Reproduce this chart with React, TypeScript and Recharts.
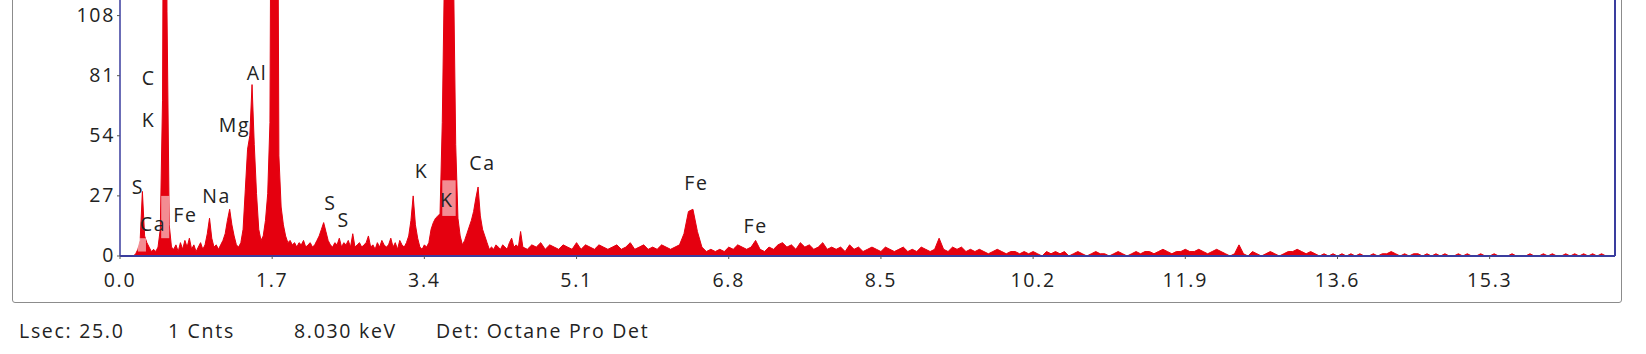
import React from 'react';
import { AreaChart, Area, XAxis, YAxis, ReferenceArea, ReferenceDot } from 'recharts';

const FONT = '"Open Sans", "Noto Sans", sans-serif';
const FS = 19.5;
const LS = 1.7;
const RED = '#e5000f';
const BLUE = '#3a3d9e';
const TEXT = '#222';

// energy axis (keV) and counts axis
const xTicks = [0, 1.7, 3.4, 5.1, 6.8, 8.5, 10.2, 11.9, 13.6, 15.3];
const yTicks = [0, 27, 54, 81, 108];
const X_MAX = 16.7;
const Y_MAX = 115;

// channels 0.000 .. 4.475 keV, 0.025 keV wide
const LOW_START = 0;
const LOW_STEP = 0.025;
const countsLow = [
  0, 0, 0, 0, 0, 0, 0, 1, 3, 7,
  29, 9, 6, 4, 2, 3, 2, 4, 12, 70,
  320, 110, 14, 4, 3, 5, 2, 6, 3, 7,
  4, 8, 3, 5, 2, 4, 6, 3, 5, 10,
  17, 8, 4, 5, 3, 5, 7, 10, 16, 21,
  14, 9, 5, 4, 6, 12, 30, 48, 54, 77,
  50, 28, 12, 7, 9, 16, 28, 60, 300, 420,
  300, 45, 22, 14, 9, 6, 7, 5, 6, 4,
  6, 5, 7, 4, 5, 6, 4, 5, 7, 9,
  12, 15, 11, 7, 5, 4, 6, 5, 8, 4,
  6, 5, 7, 4, 10, 4, 5, 6, 4, 5,
  6, 9, 4, 5, 3, 6, 4, 7, 5, 4,
  5, 8, 4, 6, 3, 7, 5, 4, 6, 9,
  16, 27, 14, 8, 4, 3, 5, 4, 6, 12,
  15, 17, 18, 19, 60, 130, 220, 400, 220, 130,
  50, 17, 9, 5, 7, 10, 13, 16, 20, 26,
  31, 18, 12, 9, 6, 3, 4, 3, 5, 4,
  3, 5, 4, 3, 6, 8, 4, 5, 4, 11,
];

// channels 4.50 .. 8.45 keV, 0.05 keV wide
const MID_START = 4.5;
const MID_STEP = 0.05;
const countsMid = [
  4, 3, 5, 4, 6, 3, 5, 4, 3, 5,
  4, 3, 6, 3, 5, 4, 3, 5, 4, 3,
  4, 5, 3, 4, 6, 3, 4, 5, 3, 4,
  3, 5, 4, 3, 4, 5, 10, 20, 21, 11,
  4, 2, 3, 2, 3, 2, 4, 3, 5, 4,
  3, 4, 7, 3, 2, 4, 3, 5, 6, 4,
  5, 3, 6, 4, 5, 3, 4, 6, 3, 4,
  3, 4, 2, 5, 3, 4, 2, 3, 4, 3,
];

// channels 8.50 .. 16.70 keV, 0.05 keV wide
const HIGH_START = 8.5;
const HIGH_STEP = 0.05;
const countsHigh = [
  2, 4, 3, 2, 3, 4, 2, 3, 2, 4,
  3, 2, 3, 8, 3, 2, 4, 3, 4, 2,
  3, 2, 3, 2, 1, 2, 3, 2, 1, 2,
  2, 1, 2, 1, 2, 1, 0, 2, 1, 2,
  1, 2, 0, 1, 2, 1, 0, 1, 2, 1,
  1, 0, 1, 2, 1, 0, 1, 2, 1, 2,
  2, 1, 2, 3, 2, 1, 2, 2, 3, 2,
  2, 3, 2, 1, 2, 3, 2, 1, 0, 1,
  5, 1, 0, 2, 1, 0, 1, 2, 1, 0,
  1, 2, 2, 3, 2, 1, 2, 1, 0, 1,
  0, 1, 0, 1, 0, 1, 0, 1, 0, 0,
  1, 0, 1, 1, 2, 1, 0, 1, 0, 1,
  1, 0, 1, 0, 1, 0, 1, 0, 0, 1,
  0, 1, 0, 0, 1, 0, 0, 1, 0, 0,
  0, 1, 0, 0, 0, 1, 0, 0, 1, 0,
  1, 0, 0, 1, 0, 1, 0, 1, 0, 1,
  0, 1, 0, 0, 0,
];

// element markers: name, keV, counts (where the label sits)
const peakNames = ['C', 'K', 'S', 'Ca', 'Fe', 'Na', 'Mg', 'Al', 'S', 'S', 'K', 'K', 'Ca', 'Fe', 'Fe'];
const peakKev = [0.32, 0.32, 0.2, 0.37, 0.73, 1.08, 1.28, 1.53, 2.35, 2.5, 3.37, 3.65, 4.05, 6.44, 7.1];
const peakCnt = [80, 61, 31, 14.5, 18.5, 27, 59, 82, 24, 16, 38, 25, 42, 33, 13.5];

// highlighted ROI bands [x1, x2, y1, y2]
const roiBands = [
  [0.2, 0.29, 2, 8],
  [0.46, 0.55, 8, 27],
  [3.6, 3.75, 18, 34],
];

const footer = [
  { text: 'Lsec: 25.0', left: 19 },
  { text: '1 Cnts', left: 168 },
  { text: '8.030 keV', left: 294 },
  { text: 'Det: Octane Pro Det', left: 436 },
];

function buildData() {
  const out: { kev: number; cnts: number }[] = [];
  countsLow.forEach((c, i) => out.push({ kev: +(LOW_START + i * LOW_STEP).toFixed(3), cnts: c }));
  countsMid.forEach((c, i) => out.push({ kev: +(MID_START + i * MID_STEP).toFixed(3), cnts: c }));
  countsHigh.forEach((c, i) => out.push({ kev: +(HIGH_START + i * HIGH_STEP).toFixed(3), cnts: c }));
  return out;
}

const data = buildData();

const XTick = (p: any) => (
  <text x={p.x} y={p.y} dy={26} textAnchor="middle" fontFamily={FONT} fontSize={FS} letterSpacing={LS} fill={TEXT}>
    {Number(p.payload.value).toFixed(1)}
  </text>
);

const YTick = (p: any) => (
  <text x={p.x} y={p.y} dy={6} textAnchor="end" fontFamily={FONT} fontSize={FS} letterSpacing={LS} fill={TEXT}>
    {p.payload.value}
  </text>
);

export default function App() {
  return (
    <div style={{ position: 'absolute', left: 0, top: 0, width: 1646, height: 354, background: '#fff', overflow: 'hidden' }}>
      <div
        style={{
          position: 'absolute',
          left: 12,
          top: -6,
          width: 1610,
          height: 309,
          boxSizing: 'border-box',
          border: '1.5px solid #8c8c8c',
          borderRadius: 3,
        }}
      />
      <div style={{ position: 'absolute', left: 0, top: 0 }}>
        <AreaChart width={1646} height={300} data={data} margin={{ top: 0, right: 30, bottom: 0, left: 0 }}>
          <XAxis
            dataKey="kev"
            type="number"
            domain={[0, X_MAX]}
            ticks={xTicks}
            allowDataOverflow
            height={44}
            tickSize={3}
            tickMargin={2}
            tick={XTick}
            axisLine={{ stroke: BLUE, strokeWidth: 2 }}
            tickLine={{ stroke: '#555' }}
          />
          <YAxis
            type="number"
            domain={[0, Y_MAX]}
            ticks={yTicks}
            allowDataOverflow
            width={120}
            tickSize={3}
            tickMargin={2}
            tick={YTick}
            axisLine={{ stroke: BLUE, strokeWidth: 1.5 }}
            tickLine={{ stroke: '#555' }}
          />
          <YAxis
            yAxisId="r"
            orientation="right"
            width={1}
            domain={[0, 1]}
            tick={false}
            tickLine={false}
            axisLine={{ stroke: BLUE, strokeWidth: 2 }}
          />
          <Area
            type="linear"
            dataKey="cnts"
            stroke={RED}
            strokeWidth={1}
            fill={RED}
            fillOpacity={1}
            isAnimationActive={false}
            dot={false}
            activeDot={false}
          />
          {roiBands.map((b, i) => (
            <ReferenceArea key={i} x1={b[0]} x2={b[1]} y1={b[2]} y2={b[3]} fill="#fff" fillOpacity={0.55} stroke="none" ifOverflow="visible" />
          ))}
          {peakNames.map((name, i) => (
            <ReferenceDot
              key={i}
              x={peakKev[i]}
              y={peakCnt[i]}
              ifOverflow="visible"
              shape={(p: any) => (
                <text x={p.cx} y={p.cy} dy={7} textAnchor="middle" fontFamily={FONT} fontSize={FS} letterSpacing={LS} fill={TEXT}>
                  {name}
                </text>
              )}
            />
          ))}
        </AreaChart>
      </div>
      {footer.map((f, i) => (
        <div
          key={i}
          style={{
            position: 'absolute',
            left: f.left,
            top: 320,
            fontFamily: FONT,
            fontSize: FS,
            letterSpacing: LS,
            lineHeight: '22px',
            color: TEXT,
            whiteSpace: 'nowrap',
          }}
        >
          {f.text}
        </div>
      ))}
    </div>
  );
}
